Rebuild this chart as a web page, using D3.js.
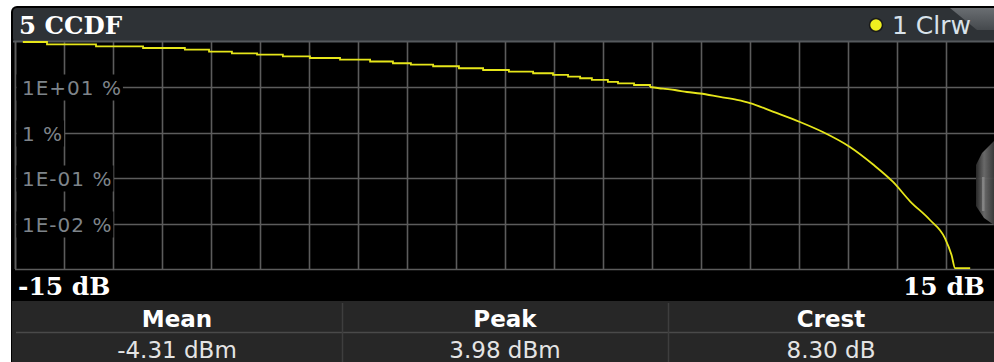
<!DOCTYPE html>
<html>
<head>
<meta charset="utf-8">
<script src="https://cdn.jsdelivr.net/npm/d3@7"></script>
<style>
  html, body { margin: 0; padding: 0; background: #ffffff; }
  svg { display: block; }
</style>
</head>
<body>
<svg id="chart" width="994" height="362"></svg>
<script>
// CCDF trace: level above mean power (dB) and probability (%)
const ccdfLevel = [-14.76, -14.02, -12.52, -11.08, -9.80, -9.06, -8.36, -7.59, -6.80, -5.97,
  -5.05, -4.13, -3.43, -2.88, -2.20, -1.41, -0.67, 0.12, 0.86, 1.47,
  1.93, 2.30, 2.66, 3.15, 3.46, 3.95, 4.44, 4.84, 5.20, 5.57,
  5.97, 6.58, 7.10, 7.50, 8.20, 9.03, 9.73, 10.56, 11.27, 11.88,
  12.40, 13.01, 13.47, 13.67, 13.78, 14.24];
const ccdfProb = [100, 89.0, 80.4, 73.8, 67.7, 61.1, 56.4, 52.5, 48.4, 44.4,
  40.8, 37.2, 34.0, 31.6, 29.2, 26.4, 24.2, 22.2, 20.5, 18.8,
  17.2, 15.9, 14.6, 13.2, 12.3, 11.3, 10.2, 9.36, 8.77, 7.92,
  7.34, 6.15, 5.30, 4.53, 2.92, 1.73, 1.04, 0.487, 0.200, 0.0825,
  0.0310, 0.0120, 0.00474, 0.00203, 0.00104, 0.00104];
// the flat upper part of the trace is drawn as quantised steps
const stepSegmentEnd = 26;

// Axis settings
const xDomain = [-15, 15];
const xStep = 1.5;
const yDomain = [1e-3, 1e2];
const yTickValues = [10, 1, 0.1, 0.01];
const yTickLabels = ["1E+01 %", "1 %", "1E-01 %", "1E-02 %"];
const xEndLabels = ["-15 dB", "15 dB"];

// Title and trace legend
const windowTitle = "5 CCDF";
const traceLegend = "1 Clrw";

// Statistics table
const statNames = ["Mean", "Peak", "Crest"];
const statValues = ["-4.31 dBm", "3.98 dBm", "8.30 dB"];

const svg = d3.select("#chart");
const W = 994, H = 362;
const plot = { left: 15, right: 995, top: 42, bottom: 269 };

const x = d3.scaleLinear().domain(xDomain).range([plot.left, plot.right]);
const y = d3.scaleLog().domain(yDomain).range([plot.bottom, plot.top]);

const defs = svg.append("defs");
defs.append("clipPath").attr("id", "plotClip")
  .append("rect")
  .attr("x", plot.left).attr("y", plot.top - 1)
  .attr("width", plot.right - plot.left).attr("height", plot.bottom - plot.top + 1);

const tabGrad = defs.append("linearGradient").attr("id", "tabGrad")
  .attr("x1", 0).attr("y1", 0).attr("x2", 0).attr("y2", 1);
tabGrad.append("stop").attr("offset", 0).attr("stop-color", "#6a6e72");
tabGrad.append("stop").attr("offset", 1).attr("stop-color", "#45494d");

const knobGrad = defs.append("linearGradient").attr("id", "knobGrad")
  .attr("x1", 0).attr("y1", 0).attr("x2", 1).attr("y2", 0);
knobGrad.append("stop").attr("offset", 0).attr("stop-color", "#2a2a2a");
knobGrad.append("stop").attr("offset", 0.45).attr("stop-color", "#6e6e6e");
knobGrad.append("stop").attr("offset", 1).attr("stop-color", "#3c3c3c");

// Page background and window frame
svg.append("rect").attr("width", W).attr("height", H).attr("fill", "#ffffff");
svg.append("rect").attr("x", 11).attr("y", 6).attr("width", W).attr("height", H)
  .attr("rx", 6).attr("fill", "#000000");

// Title bar
svg.append("rect").attr("x", 13).attr("y", 8).attr("width", W).attr("height", 34)
  .attr("rx", 4).attr("fill", "#2e3236");
svg.append("path")
  .attr("d", "M950,8 L994,8 L994,30 L977,30 Z")
  .attr("fill", "url(#tabGrad)");
svg.append("line")
  .attr("x1", 13).attr("x2", W).attr("y1", 41.5).attr("y2", 41.5)
  .attr("stroke", "#55595d").attr("stroke-width", 2);

svg.append("text")
  .attr("x", 19).attr("y", 34)
  .attr("font-family", "DejaVu Serif").attr("font-weight", "bold")
  .attr("font-size", 24.5).attr("fill", "#ffffff")
  .text(windowTitle);

svg.append("circle").attr("cx", 876).attr("cy", 25).attr("r", 6.5)
  .attr("fill", "#f0f020").attr("stroke", "#1a1a1a").attr("stroke-width", 1.5);
svg.append("text")
  .attr("x", 892).attr("y", 34)
  .attr("font-family", "DejaVu Sans").attr("font-size", 25)
  .attr("fill", "#d8e2ea")
  .text(traceLegend);

// Grid
const grid = svg.append("g");
const xTicks = d3.range(xDomain[0], xDomain[1] + 0.001, xStep);
grid.selectAll("line.v").data(xTicks).join("line")
  .attr("class", "v")
  .attr("x1", d => Math.round(x(d)) + 0.5).attr("x2", d => Math.round(x(d)) + 0.5)
  .attr("y1", plot.top).attr("y2", plot.bottom)
  .attr("stroke", "#5c5c5c").attr("stroke-width", 1.6);
grid.selectAll("line.h").data(yTickValues).join("line")
  .attr("class", "h")
  .attr("x1", plot.left).attr("x2", plot.right)
  .attr("y1", d => Math.round(y(d)) + 0.5).attr("y2", d => Math.round(y(d)) + 0.5)
  .attr("stroke", "#5c5c5c").attr("stroke-width", 1.6);
// plot border
grid.append("line")
  .attr("x1", plot.left + 0.5).attr("x2", plot.left + 0.5)
  .attr("y1", plot.top).attr("y2", plot.bottom)
  .attr("stroke", "#5c5c5c").attr("stroke-width", 1.6);
grid.append("line")
  .attr("x1", plot.left).attr("x2", plot.right)
  .attr("y1", plot.bottom + 0.5).attr("y2", plot.bottom + 0.5)
  .attr("stroke", "#5c5c5c").attr("stroke-width", 1.6);

// Y tick labels with black backing
const yLab = svg.append("g");
const labelNodes = yLab.selectAll("g").data(yTickValues).join("g")
  .attr("transform", d => `translate(0,${Math.round(y(d)) + 0.5})`);
labelNodes.append("rect").attr("class", "bg")
  .attr("x", plot.left + 1.5).attr("y", -13).attr("height", 26).attr("fill", "#000000");
labelNodes.append("text")
  .attr("x", 22).attr("y", 7)
  .attr("font-family", "DejaVu Sans").attr("font-size", 20)
  .attr("letter-spacing", 1)
  .attr("fill", "#7e848a")
  .text((d, i) => yTickLabels[i]);
labelNodes.each(function () {
  const g = d3.select(this);
  const bb = g.select("text").node().getBBox();
  g.select("rect.bg").attr("width", bb.x + bb.width + 1 - (plot.left + 1.5));
});

// Trace: stepped upper part, smooth roll-off
const idx = d3.range(ccdfLevel.length);
const traceG = svg.append("g").attr("clip-path", "url(#plotClip)");
const stepLine = d3.line()
  .x(i => x(ccdfLevel[i]))
  .y(i => y(ccdfProb[i]))
  .curve(d3.curveStepAfter);
const smoothLine = d3.line()
  .x(i => x(ccdfLevel[i]))
  .y(i => y(ccdfProb[i]))
  .curve(d3.curveMonotoneX);
traceG.append("path")
  .datum(idx.slice(0, stepSegmentEnd + 1))
  .attr("d", stepLine)
  .attr("fill", "none").attr("stroke", "#e6e61a").attr("stroke-width", 1.8);
traceG.append("path")
  .datum(idx.slice(stepSegmentEnd))
  .attr("d", smoothLine)
  .attr("fill", "none").attr("stroke", "#e6e61a").attr("stroke-width", 1.8)
  .attr("stroke-linejoin", "round");

// Scroll knob at the right edge
svg.append("path")
  .attr("d", "M994,141 L982,153 L976,165 L976,206 L984,218 L994,225 Z")
  .attr("fill", "url(#knobGrad)").attr("opacity", 0.95);
svg.append("rect").attr("x", 982).attr("y", 177).attr("width", 2.5).attr("height", 34)
  .attr("fill", "#9a9a9a").attr("opacity", 0.6);

// X range labels
svg.append("text")
  .attr("x", 18).attr("y", 295)
  .attr("font-family", "DejaVu Serif").attr("font-weight", "bold")
  .attr("font-size", 25).attr("fill", "#ffffff")
  .text(xEndLabels[0]);
svg.append("text")
  .attr("x", 985).attr("y", 295).attr("text-anchor", "end")
  .attr("font-family", "DejaVu Serif").attr("font-weight", "bold")
  .attr("font-size", 25).attr("fill", "#ffffff")
  .text(xEndLabels[1]);

// Statistics table
const tableTop = 301, rowSplit = 332;
const colEdges = [12, 342, 668, 994];
svg.append("rect").attr("x", 12).attr("y", tableTop).attr("width", W - 12).attr("height", H - tableTop)
  .attr("fill", "#272727");
svg.append("line").attr("x1", 16).attr("x2", W).attr("y1", rowSplit + 0.5).attr("y2", rowSplit + 0.5)
  .attr("stroke", "#4a4a4a").attr("stroke-width", 1.5);
svg.selectAll("line.col").data(colEdges.slice(1, 3)).join("line")
  .attr("class", "col")
  .attr("x1", d => d + 0.5).attr("x2", d => d + 0.5)
  .attr("y1", tableTop + 2).attr("y2", H)
  .attr("stroke", "#3e3e3e").attr("stroke-width", 1.5);

const colCenter = i => (colEdges[i] + colEdges[i + 1]) / 2;
svg.selectAll("text.hdr").data(statNames).join("text")
  .attr("class", "hdr")
  .attr("x", (d, i) => colCenter(i)).attr("y", 327)
  .attr("text-anchor", "middle")
  .attr("font-family", "DejaVu Sans").attr("font-weight", "bold")
  .attr("font-size", 23).attr("fill", "#ffffff")
  .text(d => d);
svg.selectAll("text.val").data(statValues).join("text")
  .attr("class", "val")
  .attr("x", (d, i) => colCenter(i)).attr("y", 358)
  .attr("text-anchor", "middle")
  .attr("font-family", "DejaVu Sans")
  .attr("font-size", 23).attr("fill", "#e4e4e4")
  .text(d => d);
</script>
</body>
</html>
